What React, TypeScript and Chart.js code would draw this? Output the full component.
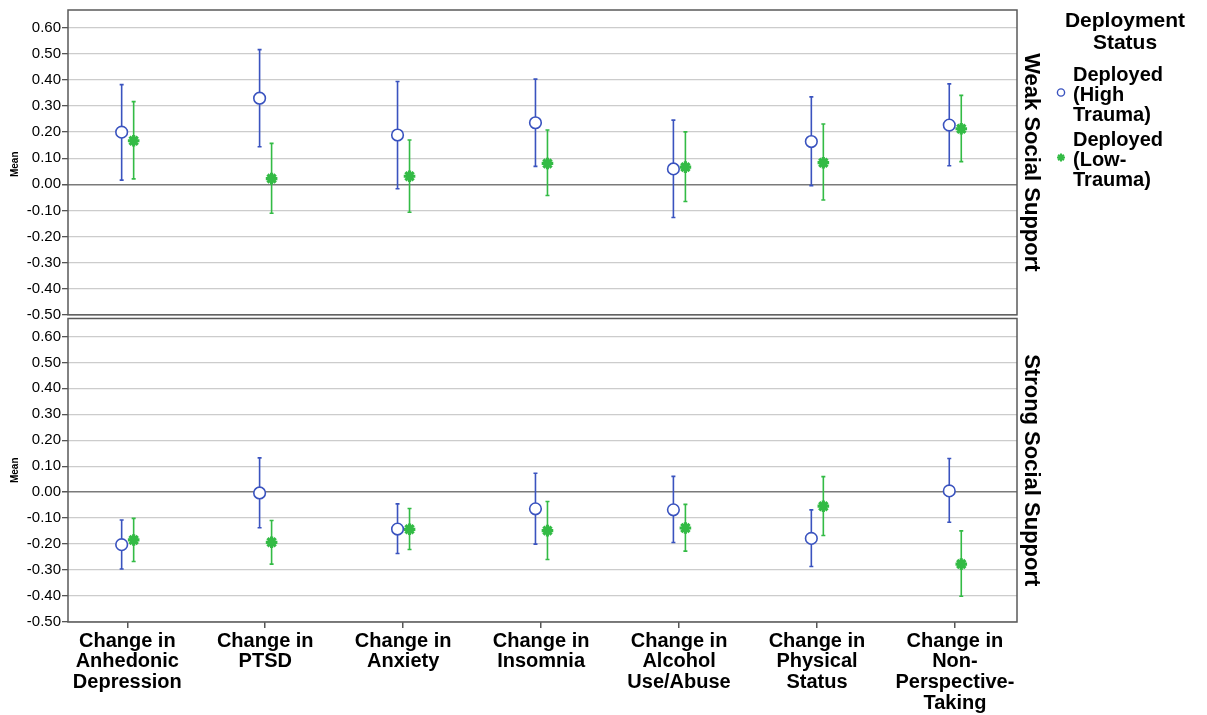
import React, { useEffect, useRef } from 'react';
import { Chart, registerables } from 'chart.js';

Chart.register(...registerables);

const FONT = 'Arial, "Liberation Sans", Helvetica, sans-serif';

const categories: string[][] = [
  ['Change in', 'Anhedonic', 'Depression'],
  ['Change in', 'PTSD'],
  ['Change in', 'Anxiety'],
  ['Change in', 'Insomnia'],
  ['Change in', 'Alcohol', 'Use/Abuse'],
  ['Change in', 'Physical', 'Status'],
  ['Change in', 'Non-', 'Perspective-', 'Taking'],
];
const panelTitles = ['Weak Social Support', 'Strong Social Support'];
const legendTitle = ['Deployment', 'Status'];
const groupLabels: string[][] = [
  ['Deployed', '(High', 'Trauma)'],
  ['Deployed', '(Low-', 'Trauma)'],
];
const yTickValues = [-0.5, -0.4, -0.3, -0.2, -0.1, 0, 0.1, 0.2, 0.3, 0.4, 0.5, 0.6];

// Weak social support panel
const weakHighMean = [0.200, 0.330, 0.189, 0.236, 0.059, 0.164, 0.227];
const weakHighLower = [0.016, 0.144, -0.017, 0.069, -0.127, -0.005, 0.071];
const weakHighUpper = [0.382, 0.516, 0.394, 0.403, 0.246, 0.335, 0.385];
const weakLowMean = [0.167, 0.022, 0.031, 0.080, 0.066, 0.083, 0.213];
const weakLowLower = [0.021, -0.111, -0.107, -0.043, -0.066, -0.060, 0.087];
const weakLowUpper = [0.317, 0.157, 0.170, 0.208, 0.201, 0.231, 0.341];
// Strong social support panel
const strongHighMean = [-0.202, -0.003, -0.142, -0.064, -0.068, -0.178, 0.005];
const strongHighLower = [-0.296, -0.137, -0.236, -0.200, -0.194, -0.286, -0.116];
const strongHighUpper = [-0.107, 0.132, -0.045, 0.073, 0.061, -0.068, 0.130];
const strongLowMean = [-0.184, -0.193, -0.143, -0.148, -0.138, -0.054, -0.277];
const strongLowLower = [-0.267, -0.277, -0.221, -0.259, -0.227, -0.167, -0.401];
const strongLowUpper = [-0.101, -0.109, -0.063, -0.036, -0.047, 0.060, -0.149];

const BLUE = '#3a53bf';
const GREEN = '#33bb45';
const HIGH_OFFSET = -0.041;
const LOW_OFFSET = 0.046;

function makeDataset(label: string, mean: number[], lower: number[], upper: number[], axis: string, high: boolean) {
  const off = high ? HIGH_OFFSET : LOW_OFFSET;
  return {
    label,
    yAxisID: axis,
    data: mean.map((v, i) => ({ x: i + off, y: v })),
    errLower: lower,
    errUpper: upper,
    pointStyle: high ? 'circle' : 'star',
    pointRadius: high ? 5.8 : 5.8,
    pointBorderWidth: high ? 1.6 : 3.2,
    borderColor: high ? BLUE : GREEN,
    pointBorderColor: high ? BLUE : GREEN,
    pointBackgroundColor: high ? '#ffffff' : GREEN,
    backgroundColor: high ? '#ffffff' : GREEN,
    showLine: false,
  };
}

const errorBarPlugin = {
  id: 'errorBars',
  beforeDatasetsDraw(chart: any) {
    const ctx = chart.ctx;
    const xs = chart.scales.x;
    chart.data.datasets.forEach((ds: any) => {
      const ys = chart.scales[ds.yAxisID];
      ctx.save();
      ctx.strokeStyle = ds.borderColor;
      ctx.lineWidth = 1.6;
      ds.data.forEach((pt: any, j: number) => {
        const px = xs.getPixelForValue(pt.x);
        const y1 = ys.getPixelForValue(ds.errLower[j]);
        const y2 = ys.getPixelForValue(ds.errUpper[j]);
        ctx.beginPath();
        ctx.moveTo(px, y1);
        ctx.lineTo(px, y2);
        ctx.moveTo(px - 2, y1);
        ctx.lineTo(px + 2, y1);
        ctx.moveTo(px - 2, y2);
        ctx.lineTo(px + 2, y2);
        ctx.stroke();
      });
      ctx.restore();
    });
  },
};

const framePlugin = {
  id: 'frames',
  afterDatasetsDraw(chart: any) {
    const ctx = chart.ctx;
    const area = chart.chartArea;
    const yTop = chart.scales.yTop;
    const yBot = chart.scales.yBot;
    const topBottom = yTop.getPixelForValue(-0.5);
    ctx.save();
    ctx.strokeStyle = '#5a5a5a';
    ctx.lineWidth = 1.5;
    ctx.strokeRect(area.left, yTop.top, area.right - area.left, topBottom - yTop.top);
    ctx.strokeRect(area.left, yBot.top, area.right - area.left, yBot.bottom - yBot.top);

    // panel titles (rotated, right side)
    ctx.fillStyle = '#000';
    ctx.font = `bold 22px ${FONT}`;
    ctx.textAlign = 'center';
    ctx.textBaseline = 'middle';
    const centers = [(yTop.top + topBottom) / 2, (yBot.top + yBot.bottom) / 2];
    panelTitles.forEach((t, i) => {
      ctx.save();
      ctx.translate(area.right + 14, centers[i]);
      ctx.rotate(Math.PI / 2);
      ctx.fillText(t, 0, 0);
      ctx.restore();
    });

    // legend
    ctx.font = `bold 21px ${FONT}`;
    ctx.textAlign = 'center';
    legendTitle.forEach((t, i) => ctx.fillText(t, 1125, 21 + i * 22));
    ctx.font = `bold 20px ${FONT}`;
    ctx.textAlign = 'left';
    const itemTops = [75, 140];
    groupLabels.forEach((lines, g) => {
      lines.forEach((t, k) => ctx.fillText(t, 1073, itemTops[g] + k * 20));
      const my = itemTops[g] + 17.5;
      const mx = 1061;
      if (g === 0) {
        ctx.strokeStyle = BLUE;
        ctx.lineWidth = 1.4;
        ctx.beginPath();
        ctx.arc(mx, my, 3.6, 0, Math.PI * 2);
        ctx.stroke();
      } else {
        ctx.strokeStyle = GREEN;
        ctx.lineWidth = 2;
        ctx.beginPath();
        const r = 4;
        for (let a = 0; a < 4; a++) {
          const ang = (a * Math.PI) / 4;
          ctx.moveTo(mx - r * Math.cos(ang), my - r * Math.sin(ang));
          ctx.lineTo(mx + r * Math.cos(ang), my + r * Math.sin(ang));
        }
        ctx.stroke();
      }
    });
    ctx.restore();
  },
};

function yAxis(stackWeight: number, min: number, max: number) {
  return {
    type: 'linear',
    position: 'left',
    stack: 'panels',
    stackWeight,
    bounds: 'data',
    min,
    max,
    afterBuildTicks: (s: any) => {
      s.ticks = yTickValues.map((v) => ({ value: v }));
    },
    afterFit: (s: any) => {
      s.width = 68;
    },
    ticks: {
      callback: (v: any) => Number(v).toFixed(2),
      font: { family: FONT, size: 15 },
      color: '#000',
      padding: 1,
      autoSkip: false,
    },
    grid: {
      color: (c: any) => (c.tick && c.tick.value === 0 ? '#7a7a7a' : '#cccccc'),
      lineWidth: (c: any) => (c.tick && c.tick.value === 0 ? 1.5 : 1.3),
      tickColor: '#555',
      tickLength: 6,
    },
    border: { display: false },
    title: {
      display: true,
      text: 'Mean',
      color: '#000',
      font: { family: FONT, size: 10, weight: 'bold' },
      padding: { top: 9, bottom: 0 },
    },
  };
}

export default function App() {
  const canvasRef = useRef<HTMLCanvasElement | null>(null);

  useEffect(() => {
    document.body.style.margin = '0';
    const canvas = canvasRef.current;
    if (!canvas) return;
    const chart = new Chart(canvas, {
      type: 'scatter',
      data: {
        datasets: [
          makeDataset('Weak - Deployed (High Trauma)', weakHighMean, weakHighLower, weakHighUpper, 'yTop', true),
          makeDataset('Weak - Deployed (Low-Trauma)', weakLowMean, weakLowLower, weakLowUpper, 'yTop', false),
          makeDataset('Strong - Deployed (High Trauma)', strongHighMean, strongHighLower, strongHighUpper, 'yBot', true),
          makeDataset('Strong - Deployed (Low-Trauma)', strongLowMean, strongLowLower, strongLowUpper, 'yBot', false),
        ] as any,
      },
      options: {
        animation: false,
        responsive: true,
        maintainAspectRatio: false,
        events: [],
        layout: { padding: { top: 7, right: 190, left: 0, bottom: 0 } },
        plugins: {
          legend: { display: false },
          tooltip: { enabled: false },
          title: { display: false },
        },
        scales: {
          x: {
            type: 'linear',
            position: 'bottom',
            bounds: 'data',
            min: -0.43,
            max: 6.45,
            afterBuildTicks: (s: any) => {
              s.ticks = categories.map((_, i) => ({ value: i }));
            },
            afterFit: (s: any) => {
              s.height = 93;
            },
            ticks: {
              callback: (v: any) => categories[Math.round(Number(v))],
              font: { family: FONT, size: 20, weight: 'bold', lineHeight: 1.03 },
              color: '#000',
              maxRotation: 0,
              autoSkip: false,
              padding: 3,
            },
            grid: { drawOnChartArea: false, tickLength: 6, tickColor: '#555', lineWidth: 1.5 },
            border: { display: false },
          },
          yBot: yAxis(305, -0.5, 0.669),
          yTop: yAxis(310, -0.514, 0.668),
        } as any,
      },
      plugins: [errorBarPlugin, framePlugin],
    });
    return () => chart.destroy();
  }, []);

  return (
    <div style={{ position: 'relative', width: '1207px', height: '715px', background: '#fff' }}>
      <canvas ref={canvasRef} />
    </div>
  );
}
